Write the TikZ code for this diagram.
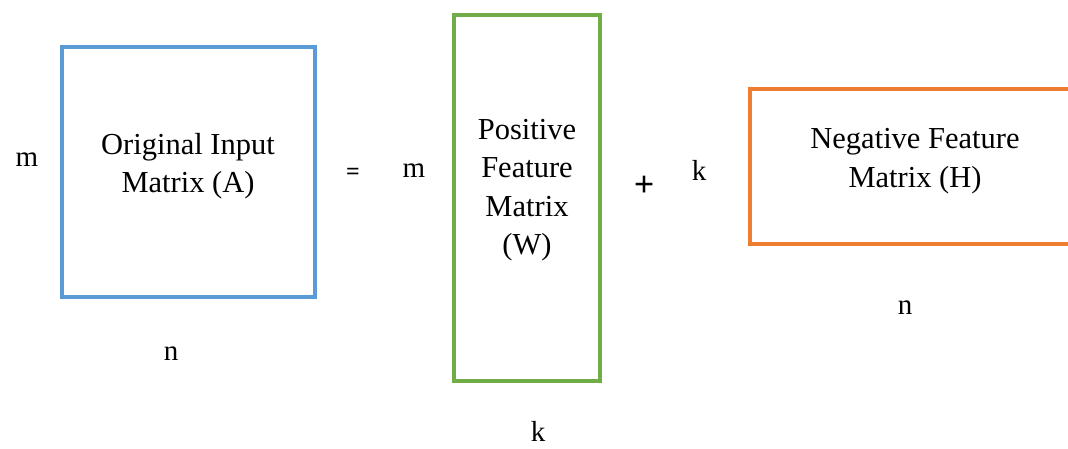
\documentclass[tikz,border=0pt]{standalone}
\usepackage{fontspec}
\setmainfont{Liberation Serif}
\definecolor{cblue}{HTML}{5B9BD5}
\definecolor{cgreen}{HTML}{70AD47}
\definecolor{corange}{HTML}{ED7D31}
\begin{document}
\begin{tikzpicture}[x=1pt,y=-1pt,
  matbox/.style={draw, line width=3.5pt, rectangle, inner sep=0pt},
  mtext/.style={align=center, font=\fontsize{30.5}{38.5}\selectfont, inner sep=0pt},
  dimlabel/.style={font=\fontsize{29}{32}\selectfont, inner sep=0pt}]
\useasboundingbox (0,0) rectangle (1068,449);
\clip (0,0) rectangle (1068,449);
% boxes
\node[matbox, draw=cblue, minimum width=253pt, minimum height=250pt] (A) at (188.5,172) {};
\node[matbox, draw=cgreen, minimum width=146pt, minimum height=366pt] (W) at (527,198) {};
\node[matbox, draw=corange, minimum width=340pt, minimum height=155pt] (H) at (920,166.5) {};
% box texts
\node[mtext] (At) at (188,166) {Original Input\\Matrix (A)};
\node[mtext] (Wt) at (527,190) {Positive\\Feature\\Matrix\\(W)};
\node[mtext] (Ht) at (915,161) {Negative Feature\\Matrix (H)};
% dimension labels
\node[dimlabel] (mA) at (27,160) {m};
\node[dimlabel] (nA) at (171,354) {n};
\node[dimlabel] (mW) at (414,171) {m};
\node[dimlabel] (kW) at (538,431) {k};
\node[dimlabel] (kH) at (699,170) {k};
\node[dimlabel] (nH) at (905,308) {n};
% operators
\node[font=\bfseries\fontsize{24}{26}\selectfont, inner sep=0pt] (eq) at (353,174) {=};
\node[font=\bfseries\fontsize{36}{38}\selectfont, inner sep=0pt] (plus) at (644,186) {+};
\end{tikzpicture}
\end{document}
